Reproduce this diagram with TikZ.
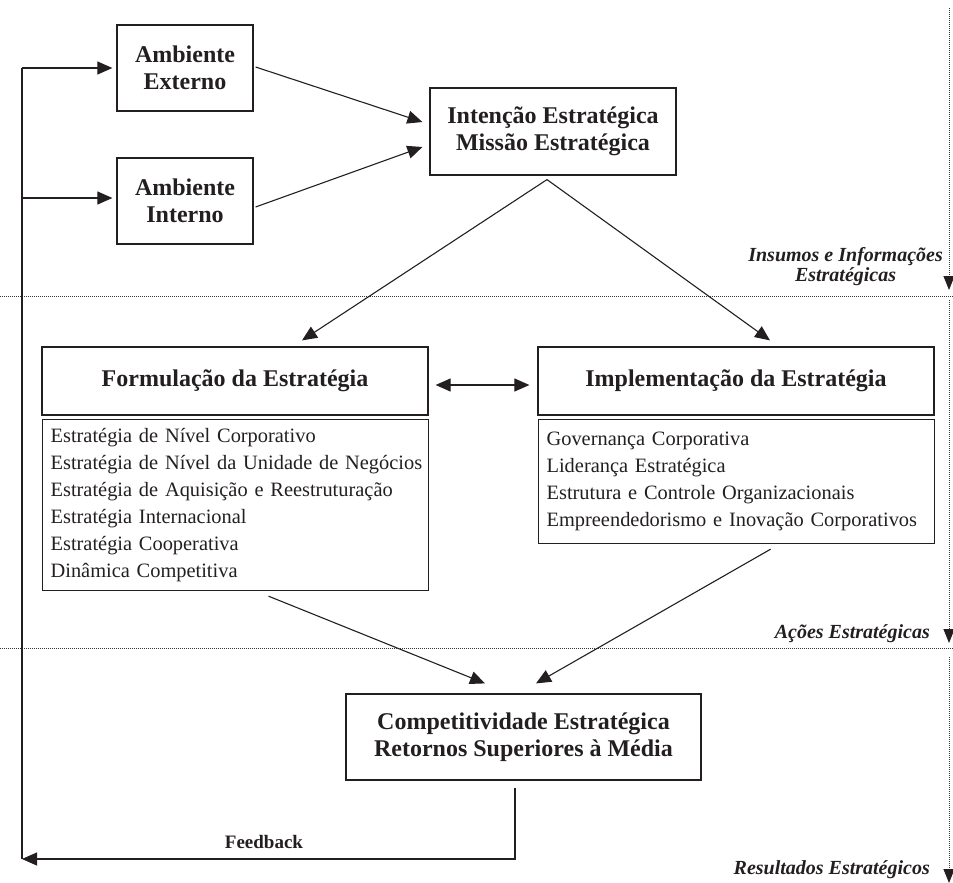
\documentclass[tikz,border=0pt]{standalone}
\usepackage{fontspec}
\setmainfont{Liberation Serif}
\usetikzlibrary{arrows.meta,calc}
\definecolor{ink}{HTML}{231F20}
\begin{document}
\begin{tikzpicture}[x=1pt,y=-1pt,
  every node/.style={text=ink},
  hbox/.style={draw=ink, line width=1.2pt, inner sep=0pt, align=center, font=\bfseries\fontsize{24}{27.5}\selectfont},
  listbox/.style={draw=ink, line width=1.2pt, inner xsep=8pt, inner ysep=0pt, align=left, font=\fontsize{20.4}{27}\selectfont},
  arr/.style={draw=ink, line width=1.1pt, -{Triangle[length=15pt,width=13pt]}},
  dblarr/.style={draw=ink, line width=1.1pt, {Triangle[length=15pt,width=13pt]}-{Triangle[length=15pt,width=13pt]}},
  conn/.style={draw=ink, line width=1.1pt},
  dots/.style={draw=black!80, line width=0.9pt, dash pattern=on 0.9pt off 1.1pt},
  dotarr/.style={dots, -{Triangle[length=14pt,width=11pt,color=ink]}},
  lab/.style={font=\bfseries\itshape\fontsize{20}{20}\selectfont, inner sep=0pt},
  fblab/.style={font=\bfseries\fontsize{19}{19}\selectfont, inner sep=0pt},
]
\useasboundingbox (0,0) rectangle (953,883);

% boxes
\node[hbox, minimum width=136, minimum height=86] (ext) at (185,68) {Ambiente\\Externo};
\node[hbox, minimum width=136, minimum height=86] (int) at (185,201) {Ambiente\\Interno};
\node[hbox, minimum width=246, minimum height=87] (mis) at (553,131.5) {Intenção Estratégica\\Missão Estratégica};
\node[hbox, minimum width=386, minimum height=68] (form) at (235,381) {Formulação da Estratégia};
\node[listbox, text width=370, minimum height=171, anchor=north west] (flist) at (42,419)
  {\mbox{Estratégia de Nível Corporativo}\\
   \mbox{Estratégia de Nível da Unidade de Negócios}\\
   \mbox{Estratégia de Aquisição e Reestruturação}\\
   \mbox{Estratégia Internacional}\\
   \mbox{Estratégia Cooperativa}\\
   \mbox{Dinâmica Competitiva}};
\node[hbox, minimum width=396, minimum height=68] (impl) at (736,381) {Implementação da Estratégia};
\node[listbox, text width=380, minimum height=124, anchor=north west] (ilist) at (538,419)
  {\mbox{Governança Corporativa}\\
   \mbox{Liderança Estratégica}\\
   \mbox{Estrutura e Controle Organizacionais}\\
   \mbox{Empreendedorismo e Inovação Corporativos}};
\node[hbox, minimum width=355, minimum height=86] (comp) at (523.5,737) {Competitividade Estratégica\\Retornos Superiores à Média};

% dotted dividers
\coordinate (h1l) at (0,296);   \coordinate (h1r) at (953,296);
\coordinate (h2l) at (0,648);   \coordinate (h2r) at (953,648);
\draw[dots] (h1l) -- (h1r);
\draw[dots] (h2l) -- (h2r);
\coordinate (v1a) at (949,8);   \coordinate (v1b) at (949,290);
\coordinate (v2a) at (949,300); \coordinate (v2b) at (949,643);
\coordinate (v3a) at (949,657); \coordinate (v3b) at (949,883);
\draw[dotarr] (v1a) -- (v1b);
\draw[dotarr] (v2a) -- (v2b);
\draw[dotarr] (v3a) -- (v3b);

% labels
\node[lab, align=center, anchor=north east] (l1) at (943,247) {Insumos e Informações\\Estratégicas};
\node[lab, anchor=base east] (l2) at (930,638) {Ações Estratégicas};
\node[lab, anchor=base east] (l3) at (930,874) {Resultados Estratégicos};

% connectors
\draw[arr] ($(ext.east)+(2,-1)$) -- ($(mis.west)+(-7,-9.5)$);
\draw[arr] ($(int.east)+(2,6)$) -- ($(mis.west)+(-7,15.5)$);
\coordinate (apex) at ($(mis.south)+(-6,4)$);
\draw[arr] (apex) -- ($(form.north)+(67,-6)$);
\draw[arr] (apex) -- ($(impl.north)+(34,-6)$);
\draw[dblarr] ($(form.east)+(7,4)$) -- ($(impl.west)+(-8,4)$);
\draw[arr] ($(flist.south)+(33,5)$) -- ($(comp.north)+(-38.5,-10)$);
\draw[arr] ($(ilist.south)+(34,5)$) -- ($(comp.north)+(12.5,-10)$);

% feedback loop
\coordinate (fbR) at ($(comp.south)+(-8.5,7)$);
\coordinate (fbL) at (22,859);
\coordinate (lt1) at (22,68);
\coordinate (lt2) at (22,198);
\draw[conn] (lt1) -- (fbL);
\draw[arr] (lt1) -- ($(ext.west)+(-4,0)$);
\draw[arr] (lt2) -- ($(int.west |- lt2)+(-4,0)$);
\draw[arr] (fbR) |- (fbL);
\node[fblab, anchor=base] (fb) at (264,848) {Feedback};
\end{tikzpicture}
\end{document}
